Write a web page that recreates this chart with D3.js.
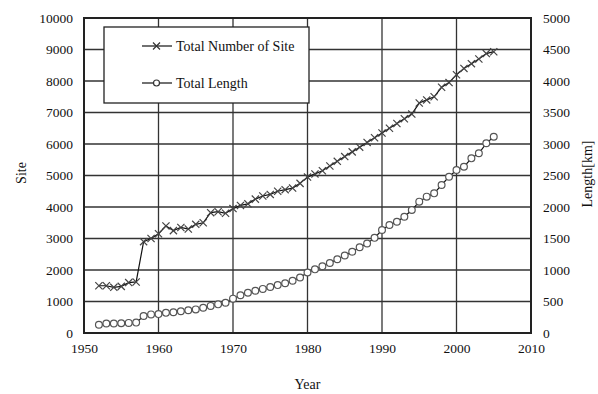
<!DOCTYPE html>
<html>
<head>
<meta charset="utf-8">
<script src="https://cdnjs.cloudflare.com/ajax/libs/d3/7.8.5/d3.min.js"></script>
<style>
	body { margin: 0; background: #fff; }
	text { font-family: "Liberation Serif", "Times New Roman", serif; fill: #111; }
</style>
</head>
<body>
<div class="chart"></div>
<script>
// Years of observation
var years = [1952, 1953, 1954, 1955, 1956, 1957, 1958, 1959, 1960, 1961,
	1962, 1963, 1964, 1965, 1966, 1967, 1968, 1969, 1970, 1971,
	1972, 1973, 1974, 1975, 1976, 1977, 1978, 1979, 1980, 1981,
	1982, 1983, 1984, 1985, 1986, 1987, 1988, 1989, 1990, 1991,
	1992, 1993, 1994, 1995, 1996, 1997, 1998, 1999, 2000, 2001,
	2002, 2003, 2004, 2005];

// Total number of site (left axis)
var totalSites = [1500, 1500, 1450, 1480, 1600, 1620, 2900, 3000, 3150, 3400,
	3250, 3350, 3300, 3450, 3500, 3820, 3850, 3800, 3950, 4050,
	4100, 4250, 4350, 4400, 4500, 4550, 4600, 4750, 4950, 5050,
	5150, 5300, 5450, 5600, 5750, 5900, 6050, 6200, 6350, 6500,
	6650, 6800, 6950, 7300, 7400, 7500, 7800, 7950, 8200, 8400,
	8550, 8700, 8870, 8930];

// Total length in km (right axis)
var totalLength = [130, 150, 150, 155, 160, 165, 270, 295, 300, 320,
	330, 345, 360, 375, 400, 430, 455, 480, 545, 600,
	640, 670, 700, 730, 760, 790, 830, 880, 960, 1010,
	1060, 1110, 1170, 1230, 1290, 1360, 1420, 1510, 1635, 1714,
	1767, 1846, 1952, 2085, 2164, 2217, 2349, 2481, 2587, 2640,
	2772, 2852, 3011, 3116];

var xTicks = [1950, 1960, 1970, 1980, 1990, 2000, 2010];
var siteTicks = [0, 1000, 2000, 3000, 4000, 5000, 6000, 7000, 8000, 9000, 10000];
var lengthTicks = [0, 500, 1000, 1500, 2000, 2500, 3000, 3500, 4000, 4500, 5000];

var legendLabels = ["Total Number of Site", "Total Length"];

var margin = { top: 18, right: 67, bottom: 61, left: 84 };
var width = 598 - margin.left - margin.right, height = 394 - margin.top - margin.bottom;

var xScale = d3.scaleLinear().domain([1950, 2010]).range([0, width]);
var ySite = d3.scaleLinear().domain([0, 10000]).range([height, 0]);
var yLength = d3.scaleLinear().domain([0, 5000]).range([height, 0]);

var svg = d3.select(".chart")
	.append("svg")
	.attr("width", 598)
	.attr("height", 394);

var g = svg.append("g")
	.attr("transform", "translate(" + margin.left + "," + margin.top + ")");

// Grid lines
g.append("g")
	.selectAll("line")
	.data(siteTicks)
	.enter()
	.append("line")
	.attr("x1", 0).attr("x2", width)
	.attr("y1", function(d){ return ySite(d); })
	.attr("y2", function(d){ return ySite(d); })
	.attr("stroke", "#333").attr("stroke-width", 1.3);

g.append("g")
	.selectAll("line")
	.data(xTicks)
	.enter()
	.append("line")
	.attr("y1", 0).attr("y2", height)
	.attr("x1", function(d){ return xScale(d); })
	.attr("x2", function(d){ return xScale(d); })
	.attr("stroke", "#333").attr("stroke-width", 1.3);

// Axes (labels only, the grid draws the ticks)
var xAxis = g.append("g")
	.attr("transform", "translate(0," + height + ")")
	.call(d3.axisBottom(xScale).tickValues(xTicks).tickFormat(d3.format("d")).tickSize(0).tickPadding(10));

var yAxisLeft = g.append("g")
	.call(d3.axisLeft(ySite).tickValues(siteTicks).tickFormat(d3.format("d")).tickSize(0).tickPadding(11));

var yAxisRight = g.append("g")
	.attr("transform", "translate(" + width + ",0)")
	.call(d3.axisRight(yLength).tickValues(lengthTicks).tickFormat(d3.format("d")).tickSize(0).tickPadding(12));

[xAxis, yAxisLeft, yAxisRight].forEach(function(a){
	a.select(".domain").remove();
	a.selectAll("text")
		.style("font-family", "'Liberation Serif', serif")
		.style("font-size", "13.5px")
		.attr("fill", "#111");
});

// Frame
g.append("rect")
	.attr("width", width).attr("height", height)
	.attr("fill", "none")
	.attr("stroke", "#222").attr("stroke-width", 2);

// Lines
var siteLine = d3.line()
	.x(function(d, i){ return xScale(years[i]); })
	.y(function(d){ return ySite(d); });

var lengthLine = d3.line()
	.x(function(d, i){ return xScale(years[i]); })
	.y(function(d){ return yLength(d); });

g.append("path")
	.datum(totalSites)
	.attr("d", siteLine)
	.attr("fill", "none").attr("stroke", "#111").attr("stroke-width", 1.2);

g.append("path")
	.datum(totalLength)
	.attr("d", lengthLine)
	.attr("fill", "none").attr("stroke", "#111").attr("stroke-width", 1.2);

// Cross markers
var s = 3.6;
g.append("g")
	.selectAll("path")
	.data(totalSites)
	.enter()
	.append("path")
	.attr("d", function(d, i){
		var x = xScale(years[i]), y = ySite(d);
		return "M" + (x - s) + "," + (y - s) + "L" + (x + s) + "," + (y + s) +
			"M" + (x - s) + "," + (y + s) + "L" + (x + s) + "," + (y - s);
	})
	.attr("stroke", "#444").attr("stroke-width", 1.2).attr("fill", "none");

// Circle markers
g.append("g")
	.selectAll("circle")
	.data(totalLength)
	.enter()
	.append("circle")
	.attr("cx", function(d, i){ return xScale(years[i]); })
	.attr("cy", function(d){ return yLength(d); })
	.attr("r", 3.4)
	.attr("fill", "#fff")
	.attr("stroke", "#555").attr("stroke-width", 1.2);

// Legend
var legend = svg.append("g");
legend.append("rect")
	.attr("x", 104).attr("y", 27)
	.attr("width", 205).attr("height", 76)
	.attr("fill", "#fff")
	.attr("stroke", "#222").attr("stroke-width", 1.3);

legendLabels.forEach(function(label, i){
	var ly = 46 + i * 37;
	legend.append("line")
		.attr("x1", 142).attr("x2", 172).attr("y1", ly).attr("y2", ly)
		.attr("stroke", "#111").attr("stroke-width", 1.2);
	if(i == 0) {
		legend.append("path")
			.attr("d", "M153," + (ly - 3.5) + "L160," + (ly + 3.5) + "M153," + (ly + 3.5) + "L160," + (ly - 3.5))
			.attr("stroke", "#333").attr("stroke-width", 1.2);
	} else {
		legend.append("circle")
			.attr("cx", 156.5).attr("cy", ly).attr("r", 3)
			.attr("fill", "#fff").attr("stroke", "#333").attr("stroke-width", 1.2);
	}
	legend.append("text")
		.attr("x", 176).attr("y", ly + 5)
		.style("font-size", "14px")
		.text(label);
});

// Axis titles
svg.append("text")
	.attr("x", margin.left + width / 2)
	.attr("y", 389)
	.attr("text-anchor", "middle")
	.style("font-size", "14px")
	.text("Year");

svg.append("text")
	.attr("transform", "translate(26,173) rotate(-90)")
	.attr("text-anchor", "middle")
	.style("font-size", "14px")
	.text("Site");

svg.append("text")
	.attr("transform", "translate(592,174) rotate(-90)")
	.attr("text-anchor", "middle")
	.style("font-size", "14px")
	.text("Length[km]");
</script>
</body>
</html>
